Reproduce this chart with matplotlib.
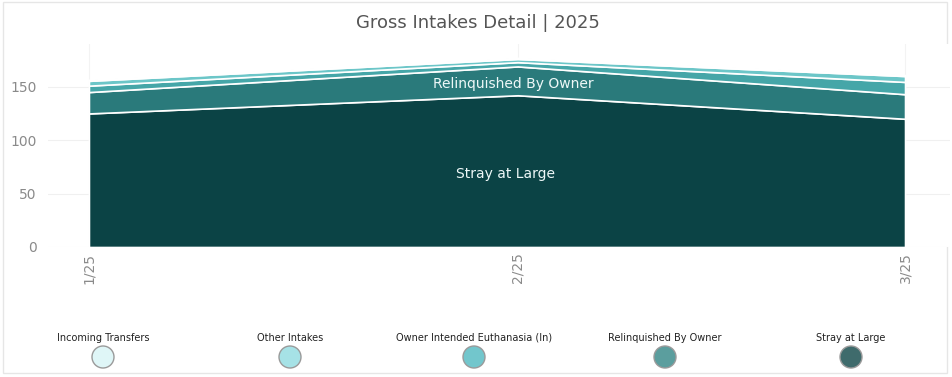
#!/usr/bin/env python3
"""Gross intakes detail stacked area chart."""
import matplotlib
matplotlib.use('Agg')
import matplotlib.pyplot as plt
from matplotlib.patches import Circle, Rectangle

months = ['1/25', '2/25', '3/25']
month_days = [0, 31, 59]   # day offsets of the first of each month
stray = [125, 142, 120]
relinquished = [20, 27, 23]
owner_euth = [6, 4, 11.5]
other_intakes = [4.5, 3, 5.5]
incoming = [1, 1, 1]

area_colors = ['#0b4345', '#2a7a7b', '#45a6a8', '#6cc6c8', '#a6e2e3']
legend_names = ['Incoming Transfers', 'Other Intakes', 'Owner Intended Euthanasia (In)',
                'Relinquished By Owner', 'Stray at Large']
legend_colors = ['#dff6f7', '#a6e2e6', '#72c6cc', '#5b9e9e', '#3f6b6c']

W, H = 953, 377
fig = plt.figure(figsize=(W / 100, H / 100), dpi=100)

def px_axes(l, t, r, b):
    return fig.add_axes([l / W, 1 - b / H, (r - l) / W, (b - t) / H])

ax = px_axes(48, 44, 950, 247)
ax.stackplot(month_days, stray, relinquished, owner_euth, other_intakes, incoming,
             colors=area_colors, edgecolor='white', linewidth=1.2, zorder=2)
ax.set_xlim(-2.96, 62.25)
ax.set_ylim(0, 190)
ax.set_yticks([0, 50, 100, 150])
ax.set_xticks(month_days)
ax.set_xticklabels(months, rotation=90)
ax.tick_params(length=0, colors='#8a8a8a', labelsize=10)
ax.tick_params(axis='y', pad=8)
ax.tick_params(axis='x', pad=4)
for s in ax.spines.values():
    s.set_visible(False)
ax.grid(axis='y', color='#f0f0f0', linewidth=0.8, zorder=0)
ax.grid(axis='x', color='#f3f3f3', linewidth=0.8, zorder=0)

ax.text(30.66, 153, 'Relinquished By Owner', color='#eef8f8', fontsize=10,
        ha='center', va='center', zorder=3)
ax.text(30.08, 68, 'Stray at Large', color='#eef8f8', fontsize=10,
        ha='center', va='center', zorder=3)

fig.text(478 / W, 1 - 23 / H, 'Gross Intakes Detail | 2025', ha='center', va='center',
         fontsize=13, color='#555555')

# legend drawn in pixel coordinates
lg = fig.add_axes([0, 0, 1, 1], zorder=-1)
lg.set_xlim(0, W)
lg.set_ylim(H, 0)
lg.axis('off')
lg.add_patch(Rectangle((3, 2), 944, 371, fill=False, edgecolor='#e6e6e6', linewidth=1))
centers = [103, 290, 474, 665, 851]
for cx, name, col in zip(centers, legend_names, legend_colors):
    lg.text(cx, 338, name, ha='center', va='center', fontsize=7,
            family=['Liberation Sans Narrow', 'DejaVu Sans'], color='#222222')
    lg.add_patch(Circle((cx, 357), 11, facecolor=col, edgecolor='#9a9a9a', linewidth=1))

plt.savefig('out.png', dpi=100)
